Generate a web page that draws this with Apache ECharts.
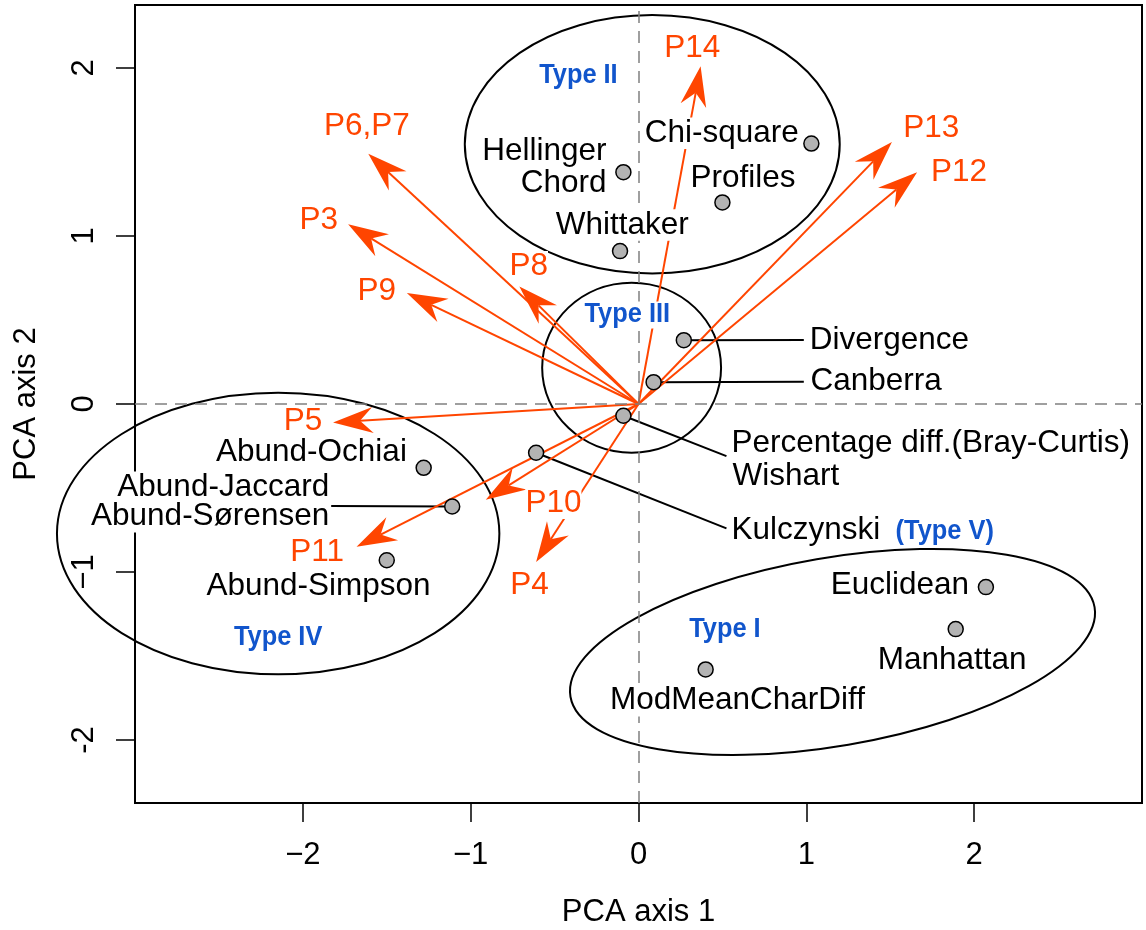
<!DOCTYPE html>
<html>
<head>
<meta charset="utf-8">
<title>PCA biplot</title>
<script src="https://cdn.jsdelivr.net/npm/echarts@6/dist/echarts.min.js"></script>
<style>
    html, body { margin: 0; padding: 0; background: #fff; }
    #chart { width: 1146px; height: 930px; }
</style>
</head>
<body>
<div id="chart"></div>
<script>
// 距离指标在 PCA 前两轴上的坐标
const pointX = [-0.09, -0.11, 0.50, 1.03, 0.27, 0.09, -0.09, -0.61, -1.28, -1.11, -1.50, 2.07, 1.89, 0.40];
const pointY = [1.38, 0.91, 1.20, 1.55, 0.38, 0.13, -0.07, -0.29, -0.38, -0.61, -0.93, -1.09, -1.34, -1.58];

// 性质向量 P3..P14
const arrowNames = ["P14", "P13", "P12", "P6,P7", "P3", "P9", "P8", "P5", "P11", "P10", "P4"];
const arrowX = [0.37, 1.51, 1.66, -1.61, -1.73, -1.38, -0.71, -1.82, -1.68, -0.91, -0.61];
const arrowY = [2.01, 1.56, 1.38, 1.49, 1.07, 0.66, 0.70, -0.11, -0.85, -0.57, -0.94];
const arrowLabelX = [0.32, 1.745, 1.91, -1.618, -1.905, -1.56, -0.654, -1.999, -1.915, -0.507, -0.65];
const arrowLabelY = [2.117, 1.641, 1.377, 1.651, 1.091, 0.668, 0.817, -0.101, -0.885, -0.591, -1.077];

// 分组椭圆: 中心 x, 中心 y, 半轴 x, 半轴 y, 旋转角(度)
const groupEllipses = [
    [0.082, 1.546, 1.117, 0.769, 0],     // Type II
    [-0.041, 0.216, 0.533, 0.506, 0],    // Type III
    [-2.147, -0.771, 1.318, 0.838, 0],   // Type IV
    [1.156, -1.476, 1.584, 0.560, 9.7]   // Type I
];

// 黑色标注
const nameTexts = ["Hellinger", "Chord", "Whittaker", "Chi-square", "Profiles", "Divergence", "Canberra",
    "Percentage diff.(Bray-Curtis)", "Wishart", "Kulczynski", "Abund-Ochiai", "Abund-Jaccard",
    "Abund-Sørensen", "Abund-Simpson", "Euclidean", "Manhattan", "ModMeanCharDiff"];
const nameX = [-0.19, -0.19, -0.097, 0.955, 0.623, 1.02, 1.025, 0.554, 0.56, 0.554, -1.38, -1.843,
    -1.843, -1.907, 1.97, 1.869, 0.59];
const nameY = [1.502, 1.314, 1.065, 1.611, 1.343, 0.381, 0.133, -0.234, -0.433, -0.75, -0.29, -0.496,
    -0.671, -1.0875, -1.077, -1.524, -1.766];
const nameAlign = ["right", "right", "center", "right", "center", "left", "left", "left", "left", "left",
    "right", "right", "right", "center", "right", "center", "center"];

// 引线: 起点(点) 与 终点
const leaderFromX = [0.27, 0.09, -0.09, -0.61, -1.11];
const leaderFromY = [0.38, 0.13, -0.07, -0.29, -0.61];
const leaderToX = [0.985, 0.985, 0.524, 0.524, -1.831];
const leaderToY = [0.381, 0.133, -0.31, -0.74, -0.607];

// 蓝色类型标注
const typeTexts = ["Type II", "Type III", "Type IV", "Type I", "(Type V)"];
const typeX = [-0.358, -0.067, -2.147, 0.515, 1.532];
const typeY = [1.958, 0.530, -1.389, -1.341, -0.759];
const typeAlign = ["center", "center", "center", "center", "left"];

// 坐标轴刻度
const xTicks = [-2, -1, 0, 1, 2];
const xTickLabels = ["\u22122", "\u22121", "0", "1", "2"];
const yTicks = [-2, -1, 0, 1, 2];
const yTickLabels = ["-2", "\u22121", "0", "1", "2"];

const FONT = "'Liberation Sans', Arial, Helvetica, sans-serif";
const RED = "#ff4500";
const BLUE = "#1155cc";

function renderEllipse(params, api) {
    const c = api.coord([api.value(0), api.value(1)]);
    const rx = api.size([api.value(2), 0])[0];
    const ry = api.size([0, api.value(3)])[1];
    return {
        type: "ellipse",
        x: c[0],
        y: c[1],
        rotation: (api.value(4) * Math.PI) / 180,
        shape: { cx: 0, cy: 0, rx: rx, ry: ry },
        style: { fill: "none", stroke: "#000", lineWidth: 2 }
    };
}

function renderSegment(params, api) {
    const a = api.coord([api.value(0), api.value(1)]);
    const b = api.coord([api.value(2), api.value(3)]);
    return {
        type: "line",
        shape: { x1: a[0], y1: a[1], x2: b[0], y2: b[1] },
        style: { stroke: "#000", lineWidth: 2 }
    };
}

function renderArrow(params, api) {
    const o = api.coord([0, 0]);
    const t = api.coord([api.value(0), api.value(1)]);
    const dx = t[0] - o[0];
    const dy = t[1] - o[1];
    const len = Math.sqrt(dx * dx + dy * dy);
    const ux = dx / len, uy = dy / len;
    const nx = -uy, ny = ux;
    const L = 40, W = 13, N = 27;
    const bx = t[0] - ux * L, by = t[1] - uy * L;
    const mx = t[0] - ux * N, my = t[1] - uy * N;
    return {
        type: "group",
        children: [
            {
                type: "line",
                shape: { x1: o[0], y1: o[1], x2: mx, y2: my },
                style: { stroke: RED, lineWidth: 2 }
            },
            {
                type: "polygon",
                shape: { points: [[t[0], t[1]], [bx + nx * W, by + ny * W], [mx, my], [bx - nx * W, by - ny * W]] },
                style: { fill: RED }
            }
        ]
    };
}

function textRenderer(texts, aligns, color, size, weight, squeeze) {
    return function (params, api) {
        const p = api.coord([api.value(0), api.value(1)]);
        return {
            type: "text",
            x: p[0],
            y: p[1],
            scaleX: squeeze || 1,
            style: {
                text: texts[params.dataIndex],
                fontFamily: FONT,
                fontSize: size,
                fontWeight: weight,
                fill: color,
                align: aligns ? aligns[params.dataIndex] : "center",
                verticalAlign: "middle",
                lineHeight: size,
                backgroundColor: "#fff"
            }
        };
    };
}

const chart = echarts.init(document.getElementById("chart"));
chart.setOption({
    animation: false,
    grid: {
        left: 135,
        right: 4,
        top: 5,
        bottom: 127,
        outerBoundsMode: "none",
        show: true,
        borderColor: "#000",
        borderWidth: 2
    },
    xAxis: {
        type: "value",
        min: -3,
        max: 3,
        axisLine: { show: true, onZero: false, lineStyle: { color: "#000", width: 2 } },
        axisTick: { show: true, length: 19, customValues: xTicks, lineStyle: { color: "#000", width: 1.5 } },
        axisLabel: {
            customValues: xTicks,
            formatter: function (v) {
                return xTickLabels[xTicks.indexOf(v)];
            },
            fontFamily: FONT,
            fontSize: 31,
            color: "#000",
            margin: 37
        },
        splitLine: { show: false },
        name: "PCA axis 1",
        nameLocation: "middle",
        nameGap: 94,
        nameTextStyle: { fontFamily: FONT, fontSize: 31, color: "#000" }
    },
    yAxis: {
        type: "value",
        min: -2.375,
        max: 2.375,
        axisLine: { show: true, onZero: false, lineStyle: { color: "#000", width: 2 } },
        axisTick: { show: true, length: 19, customValues: yTicks, lineStyle: { color: "#000", width: 1.5 } },
        axisLabel: {
            customValues: yTicks,
            formatter: function (v) {
                return yTickLabels[yTicks.indexOf(v)];
            },
            rotate: 90,
            fontFamily: FONT,
            fontSize: 31,
            color: "#000",
            margin: 35
        },
        splitLine: { show: false },
        name: "PCA axis 2",
        nameLocation: "middle",
        nameGap: 93,
        nameTextStyle: { fontFamily: FONT, fontSize: 31, color: "#000" }
    },
    series: [
        {
            // 零线
            type: "scatter",
            data: [],
            z: 1,
            markLine: {
                silent: true,
                symbol: "none",
                label: { show: false },
                lineStyle: { color: "#808080", width: 1.5, type: [12, 8] },
                data: [{ xAxis: 0 }, { yAxis: 0 }]
            }
        },
        {
            type: "custom",
            z: 2,
            renderItem: renderEllipse,
            data: groupEllipses
        },
        {
            type: "custom",
            z: 3,
            renderItem: renderSegment,
            data: leaderFromX.map((x, i) => [x, leaderFromY[i], leaderToX[i], leaderToY[i]])
        },
        {
            type: "custom",
            z: 4,
            renderItem: renderArrow,
            data: arrowX.map((x, i) => [x, arrowY[i]])
        },
        {
            type: "custom",
            z: 5,
            renderItem: textRenderer(nameTexts, nameAlign, "#000", 31.5, "normal"),
            data: nameX.map((x, i) => [x, nameY[i]])
        },
        {
            type: "custom",
            z: 5,
            renderItem: textRenderer(arrowNames, null, RED, 31.5, "normal"),
            data: arrowLabelX.map((x, i) => [x, arrowLabelY[i]])
        },
        {
            type: "custom",
            z: 5,
            renderItem: textRenderer(typeTexts, typeAlign, BLUE, 27, "bold", 0.94),
            data: typeX.map((x, i) => [x, typeY[i]])
        },
        {
            type: "scatter",
            z: 6,
            symbol: "circle",
            symbolSize: 15,
            itemStyle: { color: "#b3b3b3", borderColor: "#000", borderWidth: 1.5, opacity: 1 },
            data: pointX.map((x, i) => [x, pointY[i]])
        }
    ]
});
</script>
</body>
</html>
